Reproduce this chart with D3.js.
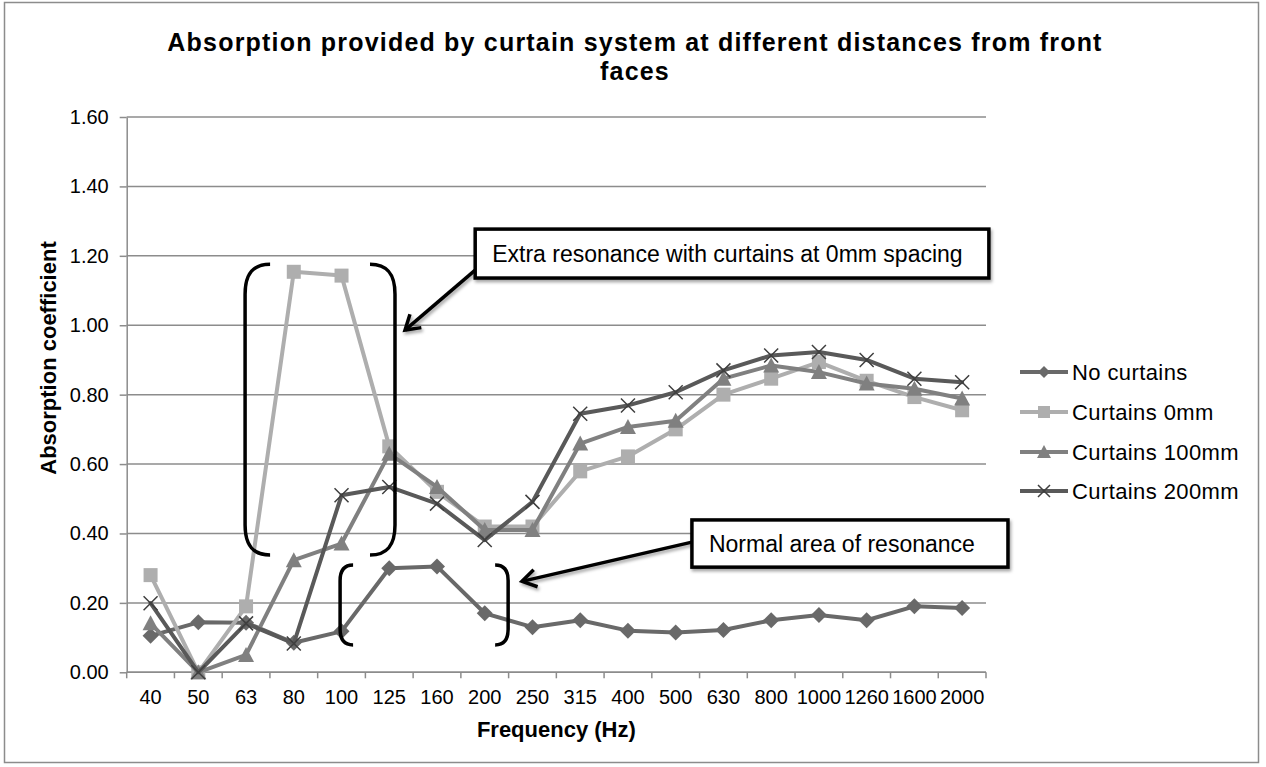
<!DOCTYPE html>
<html>
<head>
<meta charset="utf-8">
<script src="https://cdn.jsdelivr.net/npm/d3@7"></script>
<style>
  html, body { margin: 0; padding: 0; background: #fff; }
  svg { display: block; font-family: "Liberation Sans", Arial, sans-serif; }
</style>
</head>
<body>
<svg id="chart" width="1266" height="767"></svg>
<script>
// ---------- data ----------
const categories = ["40","50","63","80","100","125","160","200","250","315","400","500","630","800","1000","1260","1600","2000"];
const noCurtains   = [0.105,0.144,0.143,0.085,0.118,0.300,0.305,0.170,0.130,0.150,0.120,0.115,0.122,0.150,0.165,0.150,0.190,0.185];
const curtains0    = [0.280,0.000,0.190,1.154,1.143,0.651,0.520,0.420,0.420,0.579,0.622,0.700,0.800,0.846,0.894,0.840,0.793,0.755];
const curtains100  = [0.141,0.000,0.050,0.323,0.371,0.630,0.534,0.410,0.410,0.659,0.707,0.725,0.846,0.884,0.865,0.832,0.817,0.789];
const curtains200  = [0.199,0.000,0.141,0.083,0.510,0.534,0.486,0.381,0.491,0.745,0.769,0.807,0.870,0.913,0.923,0.900,0.846,0.836];
const seriesNames  = ["No curtains","Curtains 0mm","Curtains 100mm","Curtains 200mm"];
const yTicks       = [0,0.2,0.4,0.6,0.8,1.0,1.2,1.4,1.6];
const titleLines   = ["Absorption provided by curtain system at different distances from front","faces"];

// annotations, in data space (category index, value)
const annBoxes = [
  {text:"Extra resonance with curtains at 0mm spacing", x0:6.80, x1:17.56, y0:1.277, y1:1.136},
  {text:"Normal area of resonance", x0:11.34, x1:17.96, y0:0.439, y1:0.303}
];
const annArrows = [
  {from:[6.80,1.159], to:[5.33,0.986]},
  {from:[11.34,0.375], to:[7.78,0.262]}
];
const annBrackets = [
  {left:1.98, right:5.12, top:1.176, bottom:0.338, r:25},
  {left:3.97, right:7.49, top:0.309, bottom:0.079, r:13}
];

// ---------- setup ----------
const svg = d3.select("#chart");
const W = 1266, H = 767;
const plot = {left:126.7, right:986, top:117, bottom:672.3};

const colors = ["#696969","#aeaeae","#808080","#595959"];
const values = [noCurtains, curtains0, curtains100, curtains200];
const shapes = ["diamond","square","triangle","x"];

const x = d3.scaleBand().domain(categories).range([plot.left, plot.right]).paddingInner(0).paddingOuter(0);
const y = d3.scaleLinear().domain([0,1.6]).range([plot.bottom, plot.top]);
const cx = c => x(c) + x.bandwidth()/2;
const xi = d3.scaleLinear().domain([0,1]).range([cx(categories[0]), cx(categories[1])]); // fractional category index

// defs
const defs = svg.append("defs");
defs.append("marker").attr("id","arrow").attr("viewBox","0 0 12 12").attr("refX",10).attr("refY",6)
  .attr("markerWidth",6).attr("markerHeight",6).attr("markerUnits","strokeWidth").attr("orient","auto")
  .append("path").attr("d","M2,1 L10,6 L2,11").attr("fill","none").attr("stroke","#000").attr("stroke-width",2);
const shadow = defs.append("filter").attr("id","shadow").attr("x","-20%").attr("y","-20%").attr("width","140%").attr("height","160%");
shadow.append("feDropShadow").attr("dx",1.5).attr("dy",2.5).attr("stdDeviation",1.5).attr("flood-color","#000").attr("flood-opacity",0.35);

// background + border
svg.append("rect").attr("x",0).attr("y",0).attr("width",W).attr("height",H).attr("fill","#fff");
svg.append("rect").attr("x",4.5).attr("y",2.5).attr("width",1254).attr("height",760)
  .attr("fill","none").attr("stroke","#8c8c8c").attr("stroke-width",1.5);

// title
svg.append("g").selectAll("text").data(titleLines).join("text")
  .attr("x",635).attr("y",(d,i)=> 51 + i*29).attr("text-anchor","middle")
  .attr("font-size",25).attr("font-weight","bold").attr("letter-spacing",1.2).attr("fill","#000").text(d=>d);

// gridlines
svg.append("g").selectAll("line").data(yTicks).join("line")
  .attr("x1",plot.left).attr("x2",plot.right).attr("y1",d=>y(d)).attr("y2",d=>y(d))
  .attr("stroke","#8c8c8c").attr("stroke-width",1.5);

// y axis
const yAxis = svg.append("g").attr("transform",`translate(${plot.left},0)`)
  .call(d3.axisLeft(y).tickValues(yTicks).tickFormat(d3.format(".2f")).tickSizeInner(7).tickSizeOuter(0).tickPadding(11));
yAxis.select(".domain").attr("stroke","#8c8c8c").attr("stroke-width",1.5);
yAxis.selectAll(".tick line").attr("stroke","#8c8c8c").attr("stroke-width",1.5);
yAxis.selectAll("text").attr("font-size",20).attr("fill","#000").attr("font-family","Liberation Sans, Arial, sans-serif");

// x axis (ticks at category boundaries)
const xAxisG = svg.append("g").attr("transform",`translate(0,${plot.bottom})`);
xAxisG.append("line").attr("x1",plot.left).attr("x2",plot.right).attr("stroke","#8c8c8c").attr("stroke-width",1.5);
const boundaries = categories.map(c=>x(c)).concat([x(categories[categories.length-1])+x.bandwidth()]);
xAxisG.selectAll("line.tk").data(boundaries).join("line").attr("class","tk")
  .attr("x1",d=>d).attr("x2",d=>d).attr("y1",0).attr("y2",6).attr("stroke","#8c8c8c").attr("stroke-width",1.5);
xAxisG.selectAll("text").data(categories).join("text")
  .attr("x",d=>cx(d)).attr("y",32).attr("text-anchor","middle").attr("font-size",20).attr("fill","#000").text(d=>d);

// axis titles
svg.append("text").attr("x",(plot.left+plot.right)/2).attr("y",737).attr("text-anchor","middle")
  .attr("font-size",22).attr("font-weight","bold").text("Frequency (Hz)");
svg.append("text").attr("transform","translate(56,358) rotate(-90)").attr("text-anchor","middle")
  .attr("font-size",22).attr("font-weight","bold").text("Absorption coefficient");

// markers
function drawMarker(g, shape, color, size) {
  const s = size;
  if (shape==="diamond") g.append("path").attr("d",`M0,${-s} L${s},0 L0,${s} L${-s},0Z`).attr("fill",color);
  else if (shape==="square") g.append("rect").attr("x",-s).attr("y",-s).attr("width",2*s).attr("height",2*s).attr("fill",color);
  else if (shape==="triangle") g.append("path").attr("d",`M0,${-s-1} L${s+1},${s} L${-s-1},${s}Z`).attr("fill",color);
  else if (shape==="x") g.append("path").attr("d",`M${-s},${-s} L${s},${s} M${-s},${s} L${s},${-s}`).attr("stroke","#3f3f3f").attr("stroke-width",1.5).attr("fill","none");
}
const markerSize = [8,7,7,7];

// series
const line = d3.line().x((d,i)=>cx(categories[i])).y(d=>y(d));
values.forEach((vals, si) => {
  const g = svg.append("g");
  g.append("path").datum(vals).attr("d",line).attr("fill","none").attr("stroke",colors[si])
    .attr("stroke-width",4).attr("stroke-linejoin","round").attr("stroke-linecap","round");
  vals.forEach((v,i) => {
    const mg = g.append("g").attr("transform",`translate(${cx(categories[i])},${y(v)})`);
    drawMarker(mg, shapes[si], colors[si], markerSize[si]);
  });
});

// legend
const legendRows = [372, 412, 452, 491];
seriesNames.forEach((name, si) => {
  const g = svg.append("g").attr("transform",`translate(1020,${legendRows[si]})`);
  g.append("line").attr("x1",0).attr("x2",48).attr("stroke",colors[si]).attr("stroke-width",4);
  const mg = g.append("g").attr("transform","translate(24,0)");
  drawMarker(mg, shapes[si], colors[si], 6);
  g.append("text").attr("x",52).attr("y",8).attr("font-size",22).attr("letter-spacing",0.4).attr("fill","#000").text(name);
});

// annotations: brackets
annBrackets.forEach(b => {
  const L = xi(b.left), R = xi(b.right), T = y(b.top), B = y(b.bottom), r = b.r;
  const leftPath = `M${L+r},${T} C${L+r*0.3},${T} ${L},${T+r*0.4} ${L},${T+r*1.2} L${L},${B-r*1.2} C${L},${B-r*0.4} ${L+r*0.3},${B} ${L+r},${B}`;
  const rightPath = `M${R-r},${T} C${R-r*0.3},${T} ${R},${T+r*0.4} ${R},${T+r*1.2} L${R},${B-r*1.2} C${R},${B-r*0.4} ${R-r*0.3},${B} ${R-r},${B}`;
  [leftPath,rightPath].forEach(p => svg.append("path").attr("d",p).attr("fill","none").attr("stroke","#000").attr("stroke-width",3.5));
});

// annotations: arrows
annArrows.forEach(a => {
  svg.append("line").attr("x1",xi(a.from[0])).attr("y1",y(a.from[1])).attr("x2",xi(a.to[0])).attr("y2",y(a.to[1]))
    .attr("stroke","#000").attr("stroke-width",3.5).attr("marker-end","url(#arrow)").attr("filter","url(#shadow)");
});

// annotations: boxes
annBoxes.forEach(b => {
  const X0 = xi(b.x0), X1 = xi(b.x1), Y0 = y(b.y0), Y1 = y(b.y1);
  svg.append("rect").attr("x",X0).attr("y",Y0).attr("width",X1-X0).attr("height",Y1-Y0)
    .attr("fill","#fff").attr("stroke","#000").attr("stroke-width",3.5).attr("filter","url(#shadow)");
  svg.append("text").attr("x",X0+17).attr("y",(Y0+Y1)/2+8).attr("font-size",23).attr("fill","#000").text(b.text);
});
</script>
</body>
</html>
